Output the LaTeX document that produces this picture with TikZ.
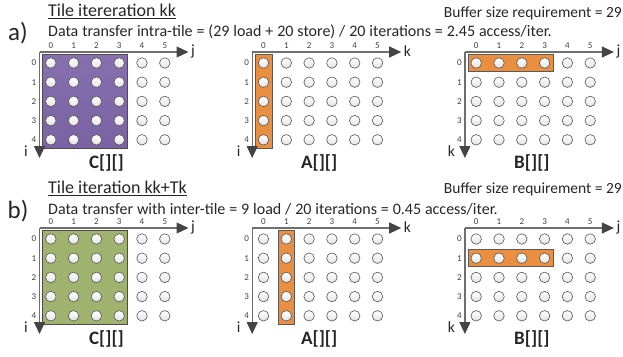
\documentclass[tikz,border=0pt]{standalone}
\usepackage{fontspec}
\setmainfont{Carlito}
\usetikzlibrary{arrows.meta}

\definecolor{tilepurple}{HTML}{7A62A3}
\definecolor{tilepurpletop}{HTML}{8670AE}
\definecolor{tilegreen}{HTML}{A0B36E}
\definecolor{tileorange}{HTML}{EA8E3F}
\definecolor{axisgray}{HTML}{6E6E6E}
\definecolor{tipgray}{HTML}{444444}
\definecolor{cellline}{HTML}{555555}

% interword spacing for the transfer captions
\newcommand\capspace{\spaceskip=3.9pt\relax}

\tikzset{
  x=1pt, y=-1pt,
  axis/.style={draw=axisgray, line width=1.2pt,
    -{Triangle[length=12pt,width=11pt,color=tipgray]}},
  axlbl/.style={inner sep=0pt, font=\fontsize{15.5}{15.5}\selectfont, text=black!85},
  idx/.style={inner sep=0pt, font=\fontsize{9}{9}\selectfont, text=black!75},
  mtitle/.style={inner sep=0pt, font=\fontsize{19}{19}\selectfont\bfseries, text=black!85},
  cell/.style={circle, minimum size=10.5pt, inner sep=0pt, draw=cellline, line width=0.6pt,
    top color=white, bottom color=gray!22},
  purpletile/.style={draw=black!70, line width=0.8pt, top color=tilepurpletop, bottom color=tilepurple},
  greentile/.style={draw=black!70, line width=0.8pt, fill=tilegreen},
  orangetile/.style={draw=black!65, line width=0.8pt, fill=tileorange},
  heading/.style={inner sep=0pt, font=\fontsize{18}{18}\selectfont, text=black!85},
  caption/.style={inner sep=0pt, font=\fontsize{16}{16}\selectfont, text=black!85,
    execute at begin node=\capspace},
  bufnote/.style={inner sep=0pt, font=\fontsize{15.5}{15.5}\selectfont, text=black!85},
  panel/.style={inner sep=0pt, font=\fontsize{25}{25}\selectfont, text=black!85},
}

% highlighted tile: #1 origin x, #2 origin y, #3 first col, #4 first row, #5 last col, #6 last row, #7 style
\newcommand\tilebox[7]{%
  \draw[#7] ({#1+11.3+22.8*#3-8.2},{#2+11+19.2*#4-8.5})
    rectangle ({#1+11.3+22.8*#5+8.4},{#2+11+19.2*#6+8.5});
}

% index space with axes: #1 name, #2 origin x, #3 origin y, #4 horizontal axis, #5 vertical axis, #6 array name
\newcommand\matgrid[6]{%
  \coordinate (#1-o) at (#2,#3);
  \coordinate (#1-h) at ({#2+149},#3);
  \coordinate (#1-v) at (#2,{#3+106});
  \draw[axis] (#1-o) -- (#1-h);
  \draw[axis] (#1-o) -- (#1-v);
  \node[axlbl, anchor=west] (#1-hn) at ({#2+151.5},{#3-0.5}) {#4};
  \node[axlbl] (#1-vn) at ({#2-13.5},{#3+99}) {#5};
  \node[mtitle] (#1-t) at ({#2+67},{#3+111}) {#6};
  \foreach \c in {0,...,5} {
    \node[idx] (#1-c\c) at ({#2+11.3+22.8*\c},{#3-6}) {\c};
    \foreach \r in {0,...,4} {
      \node[cell] (#1-\r-\c) at ({#2+11.3+22.8*\c},{#3+11+19.2*\r}) {};
    }
  }
  \foreach \r in {0,...,4} {
    \node[idx] (#1-r\r) at ({#2-5.5},{#3+11+19.2*\r}) {\r};
  }
}

\begin{document}
\begin{tikzpicture}
\useasboundingbox (0,0) rectangle (623,356);

% ---------- a) tile kk ----------
\node[panel] (pa) at (18,33) {a)};
\node[heading, anchor=west] (ta) at (48,11.5) {\underline{Tile itereration kk}};
\node[caption, anchor=west] (da) at (48,31.5) {Data transfer intra-tile = (29 load + 20 store) / 20 iterations = 2.45 access/iter.};
\node[bufnote, anchor=east] (ba) at (622,13) {Buffer size requirement = 29};

\tilebox{39.5}{52}{0}{0}{3}{4}{purpletile}
\tilebox{252.2}{52}{0}{0}{0}{4}{orangetile}
\tilebox{464.9}{52}{0}{0}{3}{0}{orangetile}
\matgrid{aC}{39.5}{52}{j}{i}{C[][]}
\matgrid{aA}{252.2}{52}{k}{i}{A[][]}
\matgrid{aB}{464.9}{52}{j}{k}{B[][]}

% ---------- b) tile kk+Tk ----------
\node[panel] (pb) at (18,211) {b)};
\node[heading, anchor=west] (tb) at (48,188.5) {\underline{Tile iteration kk+Tk}};
\node[caption, anchor=west] (db) at (48,209) {Data transfer with inter-tile = 9 load / 20 iterations = 0.45 access/iter.};
\node[bufnote, anchor=east] (bb) at (622,189.5) {Buffer size requirement = 29};

\tilebox{39.5}{228}{0}{0}{3}{4}{greentile}
\tilebox{252.2}{228}{1}{0}{1}{4}{orangetile}
\tilebox{464.9}{228}{0}{1}{3}{1}{orangetile}
\matgrid{bC}{39.5}{228}{j}{i}{C[][]}
\matgrid{bA}{252.2}{228}{k}{i}{A[][]}
\matgrid{bB}{464.9}{228}{j}{k}{B[][]}
\end{tikzpicture}
\end{document}
